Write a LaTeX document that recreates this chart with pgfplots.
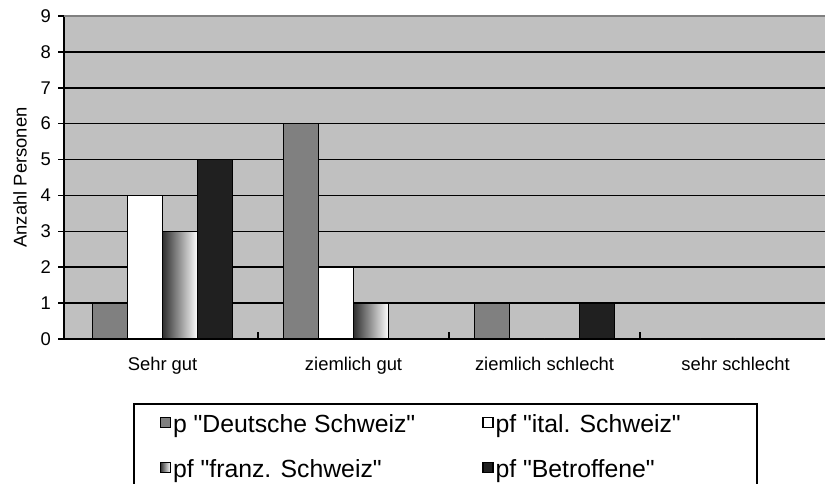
\documentclass[border=0pt]{standalone}
\usepackage{pgfplots}
\pgfplotsset{compat=1.18}
\usepackage{fontspec}
\setmainfont{Liberation Sans}
\definecolor{bg}{HTML}{C0C0C0}
\definecolor{deu}{HTML}{808080}
\definecolor{bet}{HTML}{202020}
\definecolor{fra}{HTML}{303030}
\definecolor{frame}{HTML}{808080}
\newcommand{\q}{\textquotedbl}
\begin{document}
\begin{tikzpicture}
\begin{axis}[
  name=ax,
  scale only axis,
  width=382pt, height=161.5pt,
  xmin=-0.516, xmax=3.484,
  ymin=0, ymax=9,
  ytick={0,1,2,3,4,5,6,7,8,9},
  ymajorgrids,
  grid style={black, line width=0.8pt},
  axis background/.style={fill=bg},
  axis x line*=bottom, axis y line*=left,
  axis line style={black, line width=0.8pt, -},
  tick align=outside,
  major tick length=3pt,
  tick style={black, line width=0.8pt},
  x tick style={yshift=3.5pt},
  xtick={0.5,1.5,2.5},
  xticklabels={},
  extra x ticks={0,1,2,3},
  extra x tick labels={Sehr gut, ziemlich gut, ziemlich schlecht, sehr schlecht},
  extra x tick style={major tick length=0pt},
  /pgf/number format/assume math mode=true,
  ticklabel style={font=\fontsize{9.2}{11}\selectfont},
  xticklabel style={yshift=-5.5pt},
  ylabel={Anzahl Personen},
  every axis y label/.style={at={([xshift=-22pt]axis description cs:0,0.5)}, rotate=90, anchor=center, font=\fontsize{9.2}{11}\selectfont},
  ybar,
  bar width=17.5pt,
  legend columns=2,
  legend cell align=left,
  legend style={
    at={(axis description cs:0,0)}, anchor=north west,
    xshift=34.5pt, yshift=-32pt,
    draw=black, line width=0.8pt,
    font=\fontsize{12.4}{14}\selectfont,
    inner xsep=13pt, inner ysep=4.5pt,
    row sep=8.8pt,
    /tikz/every even column/.append style={column sep=32.5pt},
    nodes={inner sep=1pt, text height=9pt, text depth=2.7pt, line width=0.6pt},
  },
  legend image code/.code={\draw[#1, line width=0.6pt] (0pt,-0.5pt) rectangle (5pt,4.5pt);},
]
\addplot[draw=black, line width=0.6pt, fill=deu, bar shift=-26.25pt] coordinates {(0,1) (1,6) (2,1) (3,0)};
\addlegendentry{p \q Deutsche Schweiz\q}
\addplot[draw=black, line width=0.6pt, fill=white, bar shift=-8.75pt] coordinates {(0,4) (1,2) (2,0) (3,0)};
\addlegendentry{pf \q ital. Schweiz\q\hspace{24pt}\null}
\addplot[draw=black, line width=0.6pt, left color=fra, right color=white, bar shift=8.75pt] coordinates {(0,3)};
\addlegendentry{pf \q franz. Schweiz\q}
\addplot[draw=black, line width=0.6pt, fill=bet, bar shift=26.25pt] coordinates {(0,5) (1,0) (2,1) (3,0)};
\addlegendentry{pf \q Betroffene\q}
\addplot[forget plot, draw=black, line width=0.6pt, left color=fra, right color=white, bar shift=8.75pt] coordinates {(1,1)};
\addplot[forget plot, draw=black, line width=0.6pt, fill=bg, bar shift=8.75pt] coordinates {(2,0) (3,0)};
\draw[frame, line width=0.9pt] (rel axis cs:0,1) -- (rel axis cs:1,1);
\end{axis}
\pgfresetboundingbox
\path ([xshift=-32pt,yshift=-72.5pt]ax.south west) rectangle ([xshift=-1.5pt,yshift=8pt]ax.north east);
\end{tikzpicture}
\end{document}
